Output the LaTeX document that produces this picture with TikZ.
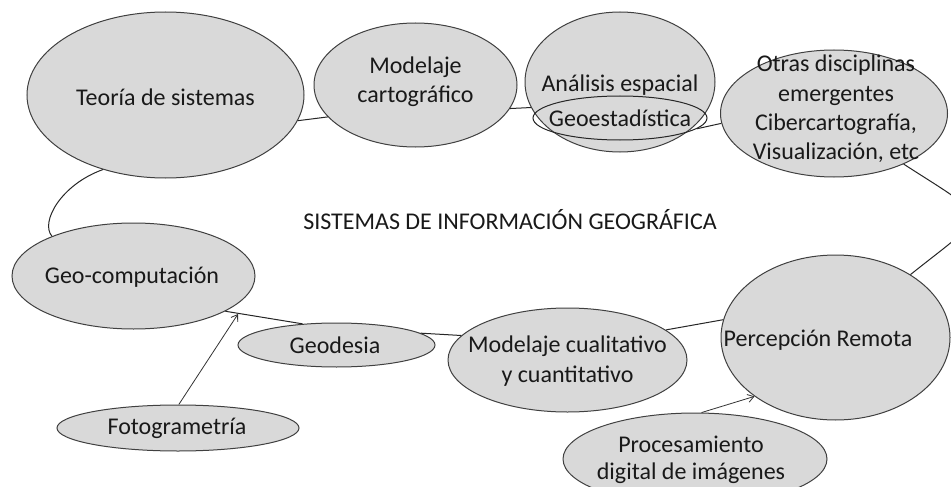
\documentclass[tikz,border=0pt]{standalone}
\usepackage{fontspec}
\setmainfont{Carlito}
\usetikzlibrary{shapes.geometric,arrows.meta}
\definecolor{bubfill}{HTML}{D9D9D9}
\definecolor{bubline}{HTML}{404040}
\begin{document}
\begin{tikzpicture}[x=1pt,y=-1pt,
  bub/.style={ellipse, draw=bubline, fill=bubfill, line width=1pt, inner sep=0pt},
  ring/.style={ellipse, draw=black!85, line width=1pt, inner sep=0pt},
  txt/.style={align=center, inner sep=0pt, text=black!90, font=\fontsize{24}{29.3}\selectfont},
  link/.style={draw=black!85, line width=1pt},
  arr/.style={draw=black!80, line width=0.8pt, -{Straight Barb[length=6pt,width=8pt]}}]
\useasboundingbox[fill=white] (0,0) rectangle (951,487);

\node[bub, minimum width=277, minimum height=166,
  label={[txt,yshift=-2pt]center:Teoría de sistemas}] (teoria) at (165.5,95) {};
\node[bub, minimum width=203, minimum height=124,
  label={[txt,yshift=3pt]center:Modelaje\\cartográfico}] (modcart) at (415.5,85) {};
\node[bub, minimum width=190, minimum height=140,
  label={[txt,yshift=-3pt]center:Análisis espacial}] (analisis) at (620,82) {};
\node[ring, minimum width=174, minimum height=44,
  label={[txt]center:Geoestadística}] (geoest) at (620,118) {};
\node[bub, minimum width=227, minimum height=127,
  label={[txt,xshift=2pt,yshift=4.5pt]center:Otras disciplinas\\emergentes\\Cibercartografía,\\Visualización, etc}] (otras) at (834,113.5) {};
\node[bub, minimum width=243, minimum height=106,
  label={[txt,xshift=-1.5pt,yshift=-1pt]center:Geo-computación}] (geocomp) at (133.5,276) {};
\node[bub, minimum width=197, minimum height=44,
  label={[txt,xshift=-1.5pt]center:Geodesia}] (geodesia) at (336.5,345) {};
\node[bub, minimum width=242, minimum height=46,
  label={[txt,xshift=-1pt]center:Fotogrametría}] (fotog) at (178,428) {};
\node[bub, minimum width=239, minimum height=104,
  label={[txt,yshift=-1pt]center:Modelaje cualitativo\\y cuantitativo}] (modcual) at (567.5,360) {};
\node[bub, minimum width=229, minimum height=165,
  label={[txt,xshift=-17.5pt,yshift=-2.5pt]center:Percepción Remota}] (perc) at (835.5,337.5) {};
\node[bub, minimum width=264, minimum height=92,
  label={[txt,font=\fontsize{24}{27}\selectfont,xshift=-4pt,yshift=-1pt]center:Procesamiento\\digital de imágenes}] (proc) at (695,459) {};

\node[txt] (sig) at (510,220) {SISTEMAS DE INFORMACIÓN GEOGRÁFICA};

\coordinate (tip) at (238,314);

\draw[link] (teoria.349) -- (modcart.200.6);
\draw[link] (modcart.346) -- (analisis.196.5);
\draw[link] (geoest.352) -- (otras.185);
\draw[link] (otras.324) .. controls +(90,58) and +(80,-64) .. (perc.40);
\draw[link] (perc.171.9) -- (modcual.17.9);
\draw[link] (modcual.167.4) -- (geodesia.8);
\draw[link] (geodesia.148.9) -- (geocomp.339);
\draw[link] (teoria.230) .. controls +(-42,15) and +(-12,-14) .. (geocomp.154);
\draw[arr] (fotog.88) -- (tip);
\draw[arr] (proc.82) -- (perc.216);
\end{tikzpicture}
\end{document}
